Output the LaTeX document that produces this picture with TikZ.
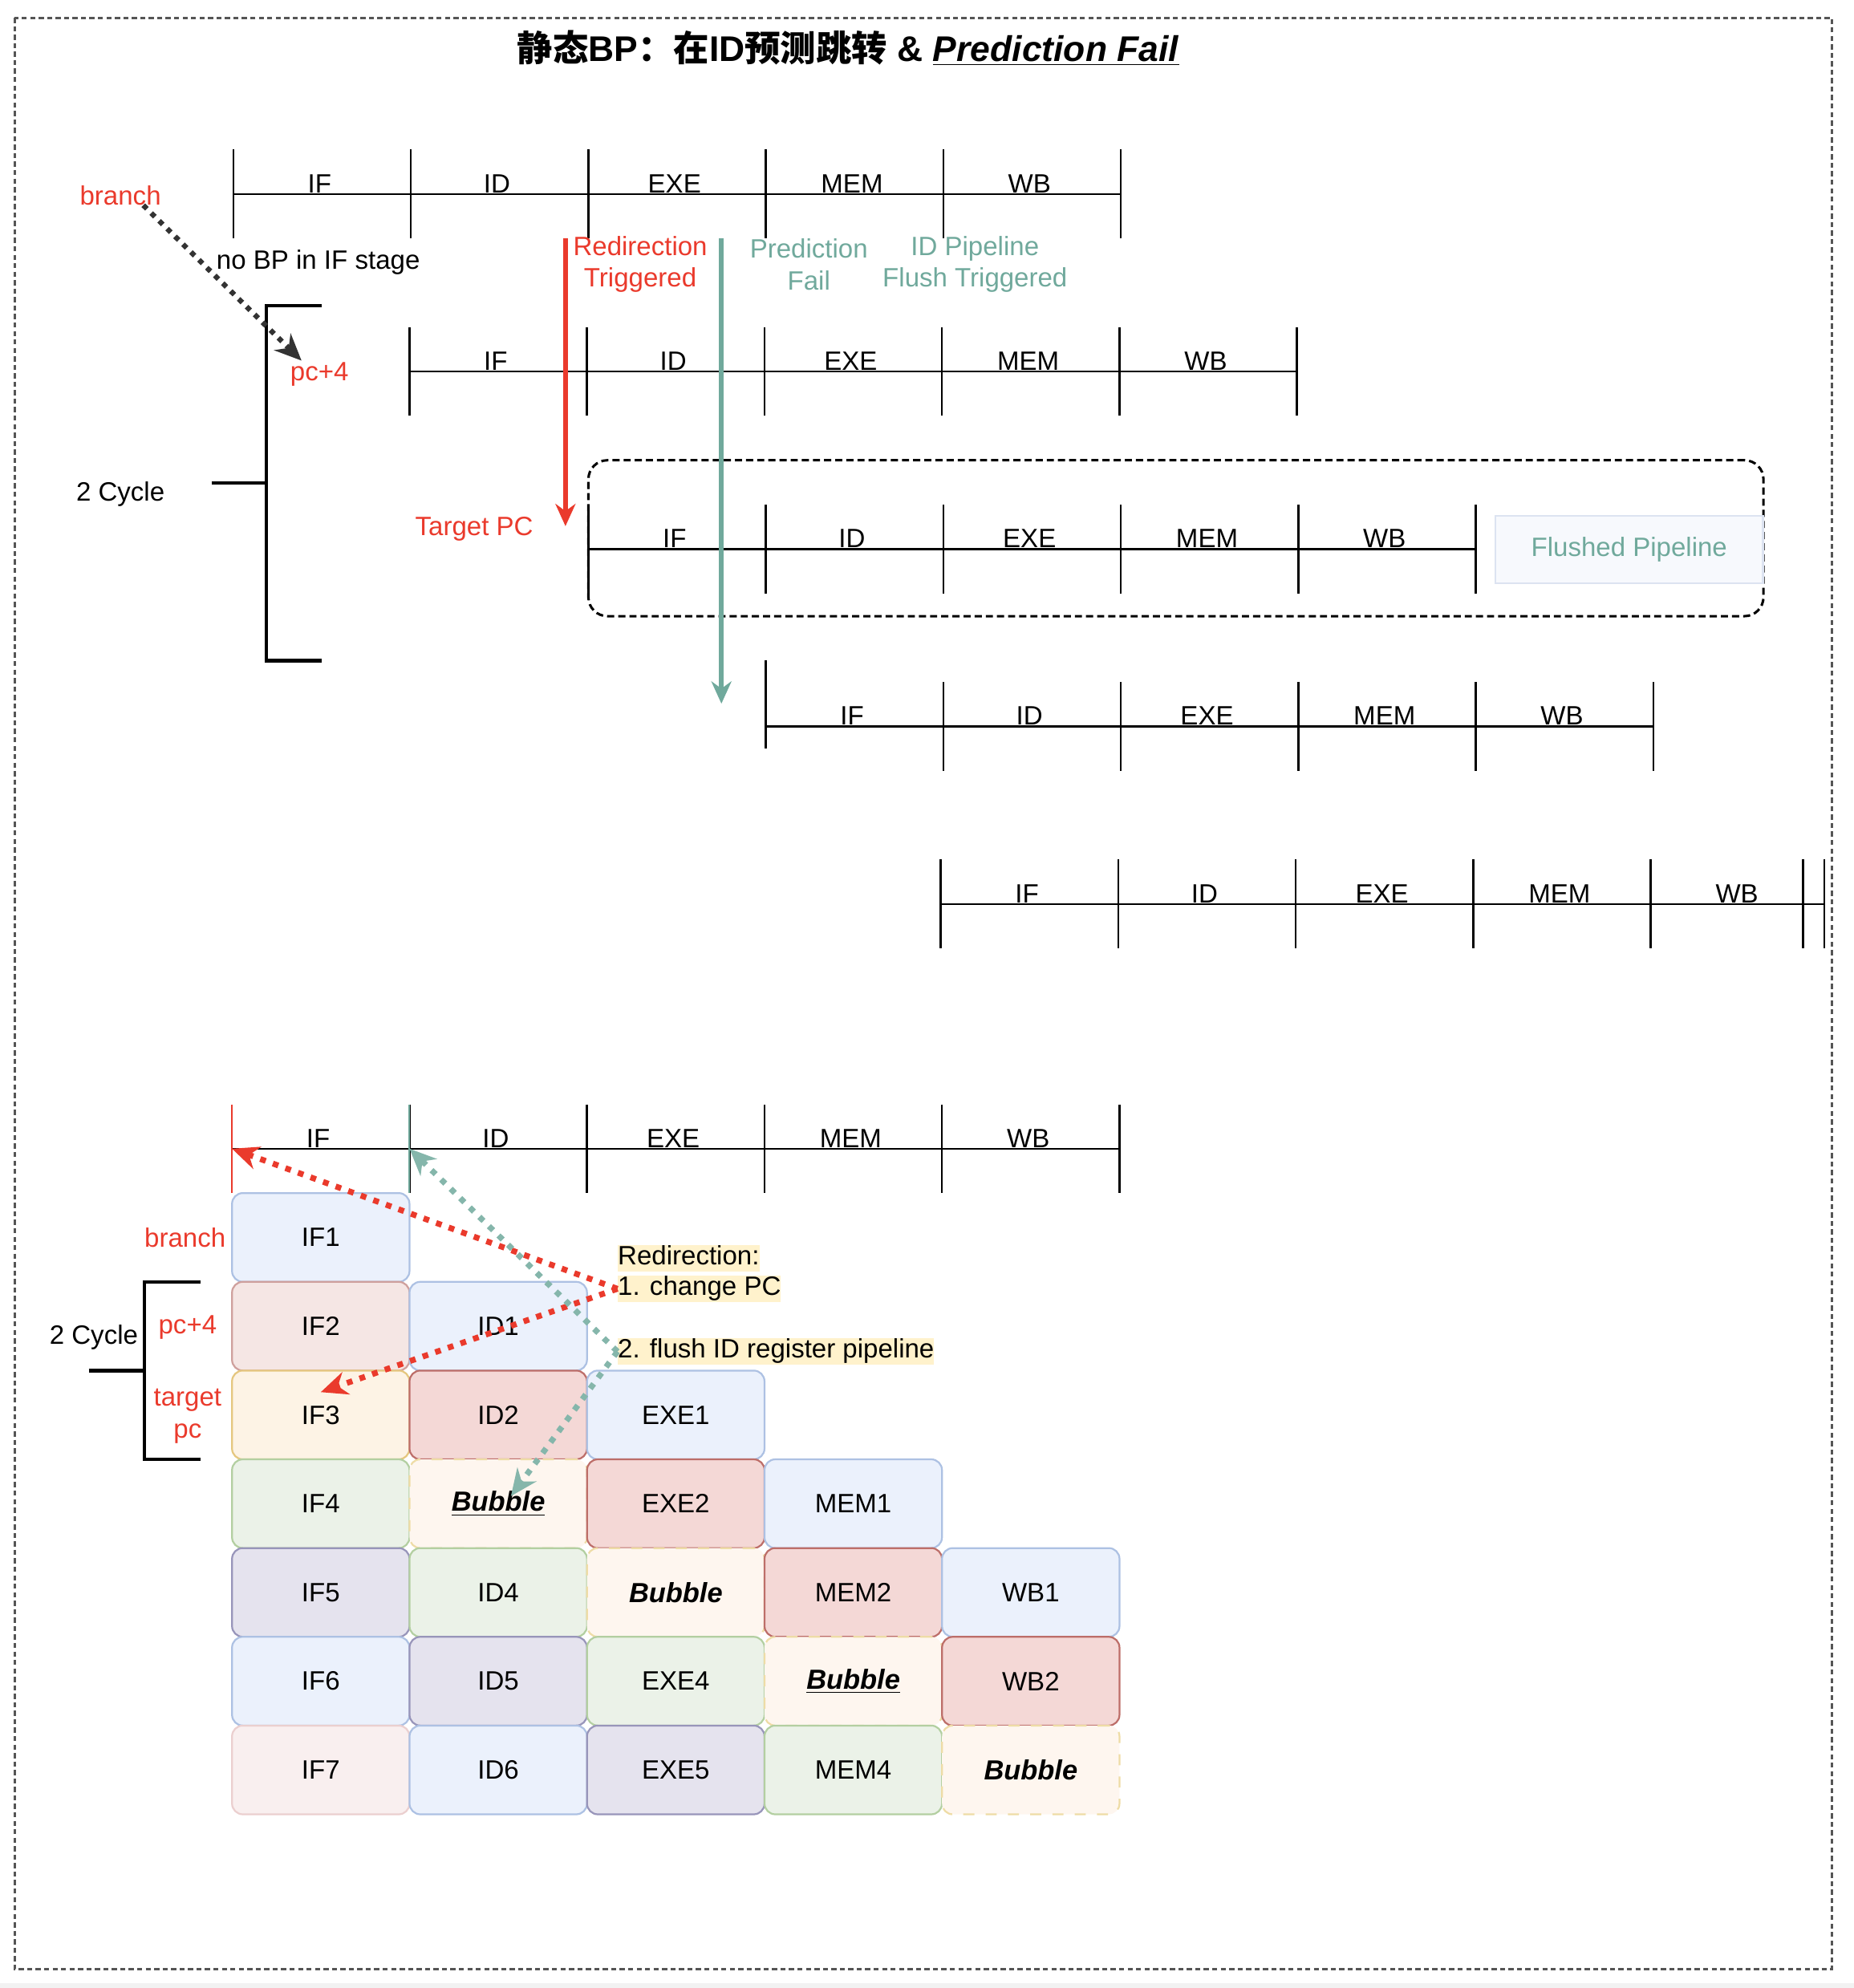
\documentclass[tikz,border=0pt]{standalone}
\usepackage{fontspec}
\setmainfont{Liberation Sans}
\newfontfamily\cjkfont{Noto Sans CJK SC}
\usepackage{xcolor}
\definecolor{redline}{HTML}{EA3A2C}
\definecolor{tealline}{HTML}{70A99C}
\definecolor{darkdot}{HTML}{333333}
\definecolor{framegray}{HTML}{555555}
\definecolor{notebg}{HTML}{FFF2CC}
\definecolor{blueF}{HTML}{EBF1FC}
\definecolor{blueD}{HTML}{ADC1E3}
\definecolor{redF}{HTML}{F4D8D6}
\definecolor{redD}{HTML}{BD6E69}
\definecolor{lredF}{HTML}{F5E6E4}
\definecolor{lredD}{HTML}{CFA09D}
\definecolor{yelF}{HTML}{FDF3E5}
\definecolor{yelD}{HTML}{E5C77F}
\definecolor{bubF}{HTML}{FEF6EF}
\definecolor{bubD}{HTML}{EEDCA6}
\definecolor{greenF}{HTML}{EBF2E8}
\definecolor{greenD}{HTML}{B3CFA1}
\definecolor{purpF}{HTML}{E5E3EE}
\definecolor{purpD}{HTML}{9895BA}
\definecolor{pinkF}{HTML}{F9EFEF}
\definecolor{pinkD}{HTML}{EBCFCF}
\definecolor{zoneF}{HTML}{F7F9FD}
\definecolor{zoneD}{HTML}{DCE3F1}
\usepackage{tikz}
\usetikzlibrary{arrows.meta, positioning}

\tikzstyle{stagelbl} = [anchor=base, inner sep=0pt]
\tikzstyle{timeline} = [line width=0.9pt]
\tikzstyle{tick} = [line width=0.9pt]
\tikzstyle{bracket} = [line width=1.6pt]
\tikzstyle{redtxt} = [text=redline]
\tikzstyle{tealtxt} = [text=tealline]
\tikzstyle{frame} = [draw=framegray, line width=1pt, dash pattern=on 2.3pt off 1.5pt]
\tikzstyle{flushzone} = [
  rectangle, rounded corners=0.3cm, draw=black, line width=1.1pt,
  dash pattern=on 3.2pt off 1.8pt,
  minimum width=18.54cm, minimum height=2.46cm
]
\tikzstyle{flushbox} = [
  rectangle, fill=zoneF, draw=zoneD, line width=0.8pt, text=tealline,
  minimum width=4.22cm, minimum height=1.06cm
]
\tikzstyle{cell} = [
  rectangle, rounded corners=0.17cm, inner sep=0pt,
  minimum width=2.8cm, minimum height=1.4cm, line width=0.8pt
]
\tikzstyle{bluecell}   = [cell, fill=blueF,  draw=blueD]
\tikzstyle{redcell}    = [cell, fill=redF,   draw=redD]
\tikzstyle{lredcell}   = [cell, fill=lredF,  draw=lredD]
\tikzstyle{yelcell}    = [cell, fill=yelF,   draw=yelD]
\tikzstyle{greencell}  = [cell, fill=greenF, draw=greenD]
\tikzstyle{purpcell}   = [cell, fill=purpF,  draw=purpD]
\tikzstyle{pinkcell}   = [cell, fill=pinkF,  draw=pinkD]
\tikzstyle{bubcell}    = [cell, fill=bubF,   draw=bubD, dash pattern=on 5pt off 5pt,
                          font=\fontsize{12.4}{14.2}\selectfont\bfseries\itshape]
\tikzstyle{note} = [
  anchor=west, inner xsep=0pt, inner ysep=1pt, fill=notebg,
  text height=0.78em, text depth=0.22em
]
\tikzstyle{bigarrow} = [-{Stealth[length=10pt,width=9pt]}, line width=2.2pt]
\tikzstyle{dotarrow} = [
  -{Stealth[length=12pt,width=10.5pt]}, line width=2.6pt,
  dash pattern=on 2.6pt off 3.4pt
]

% one pipeline row: five stages of 140 units
\newcommand{\stagerow}[4][]{%
  \coordinate (#2t0) at (#3,#4);
  \draw[timeline] (#3,#4) -- ++(700,0);
  \draw[tick,#1] (#3,#4-35) -- ++(0,70);
  \foreach \k in {1,...,5}{
    \coordinate (#2t\k) at (#3+140*\k,#4);
    \draw[tick] (#2t\k) ++(0,-35) -- ++(0,70);
  }
  \foreach \lbl [count=\k from 0] in {IF,ID,EXE,MEM,WB}
    \node[stagelbl] (#2\lbl) at (#3+68+140*\k,#4-1) {\lbl};
}

\begin{document}
\begin{tikzpicture}[x=0.02cm, y=-0.02cm, >=Stealth,
                    every node/.style={font=\fontsize{11.9}{14.2}\selectfont}]

  \useasboundingbox (0,0) rectangle (1462,1568);

  % ── Frame ─────────────────────────────────────────────
  \fill[gray!10] (0,1564) rectangle (1462,1568);
  \draw[frame] (11.5,14) rectangle (1445,1553);

  % ── Title ─────────────────────────────────────────────
  \node[font=\fontsize{16}{19}\selectfont\bfseries] (title) at (669,38)
    {{\cjkfont 静态}BP{\cjkfont ：在}ID{\cjkfont 预测跳转} \& \underline{\textit{Prediction Fail}}};

  % ── Upper pipelines ───────────────────────────────────
  \stagerow{pa}{184}{153}
  \stagerow{pb}{323}{293}
  \node[flushzone] (zone) at (927.5,424.5) {};
  \stagerow{pc}{464}{433}
  \node[flushbox] (flushed) at (1285,433.5) {Flushed Pipeline};
  \stagerow[yshift=0.35cm]{pd}{604}{573}

  \draw[timeline] (742,713) -- (1439,713);
  \foreach \x in {742,882,1022,1162,1302,1422,1439}
    \draw[tick] (\x,678) -- (\x,748);
  \foreach \lbl [count=\k from 0] in {IF,ID,EXE,MEM,WB}
    \node[stagelbl] (pe\lbl) at (810+140*\k,712) {\lbl};

  % ── Upper labels ──────────────────────────────────────
  \node[redtxt] (branch) at (95,154) {branch};
  \node (nobp) at (251,207) {no BP in IF stage};
  \node[redtxt] (pcfour) at (252,295) {pc+4};
  \node (cycle) at (95,390) {2 Cycle};
  \node[redtxt, align=center] (redir) at (505,208.5) {Redirection\\Triggered};
  \node[redtxt] (target) at (374,417) {Target PC};
  \node[tealtxt, align=center] (predfail) at (638,208.5) {Prediction\\Fail};
  \node[tealtxt, align=center] (idflush) at (769,208.5) {ID Pipeline\\Flush Triggered};

  \draw[bracket] (254,241) -- (210,241) -- (210,521) -- (254,521);
  \draw[bracket] (167,381) -- (210,381);

  % ── Upper arrows ──────────────────────────────────────
  \coordinate (redtop) at (446,188);
  \coordinate (redend) at (446,415);
  \coordinate (tealtop) at (569,188);
  \coordinate (tealend) at (569,555);
  \draw[dotarrow, darkdot, line width=2.3pt, dash pattern=on 2.3pt off 2.7pt]
    ([xshift=0.36cm,yshift=0.12cm]branch.south) -- ([xshift=0.3cm,yshift=-0.1cm]pcfour.north west);
  \draw[bigarrow, redline] (redtop) -- (redend);
  \draw[bigarrow, tealline] (tealtop) -- (tealend);

  % ── Lower pipeline ────────────────────────────────────
  \stagerow[draw=redline, line width=0.7pt]{q}{183}{906}
  \draw[tick, draw=tealline, line width=0.7pt] (qt1) ++(0,-35) -- ++(0,70);

  % ── Stage cells ───────────────────────────────────────
  \node[bluecell]  (IF1)  at (253,976)  {IF1};

  \node[lredcell]  (IF2)  at (253,1046) {IF2};
  \node[bluecell]  (ID1)  at (393,1046) {ID1};

  \node[yelcell]   (IF3)  at (253,1116) {IF3};
  \node[redcell]   (ID2)  at (393,1116) {ID2};
  \node[bluecell]  (EXE1) at (533,1116) {EXE1};

  \node[greencell] (IF4)  at (253,1186) {IF4};
  \node[bubcell]   (bubA) at (393,1186) {\underline{Bubble}};
  \node[redcell]   (EXE2) at (533,1186) {EXE2};
  \node[bluecell]  (MEM1) at (673,1186) {MEM1};

  \node[purpcell]  (IF5)  at (253,1256) {IF5};
  \node[greencell] (ID4)  at (393,1256) {ID4};
  \node[bubcell]   (bubB) at (533,1256) {Bubble};
  \node[redcell]   (MEM2) at (673,1256) {MEM2};
  \node[bluecell]  (WB1)  at (813,1256) {WB1};

  \node[bluecell]  (IF6)  at (253,1326) {IF6};
  \node[purpcell]  (ID5)  at (393,1326) {ID5};
  \node[greencell] (EXE4) at (533,1326) {EXE4};
  \node[bubcell]   (bubC) at (673,1326) {\underline{Bubble}};
  \node[redcell]   (WB2)  at (813,1326) {WB2};

  \node[pinkcell]  (IF7)  at (253,1396) {IF7};
  \node[bluecell]  (ID6)  at (393,1396) {ID6};
  \node[purpcell]  (EXE5) at (533,1396) {EXE5};
  \node[greencell] (MEM4) at (673,1396) {MEM4};
  \node[bubcell]   (bubD) at (813,1396) {Bubble};

  % ── Lower labels ──────────────────────────────────────
  \node[redtxt] (lbranch) at (146,976) {branch};
  \node[redtxt] (lpc) at (148,1047) {pc+4};
  \node[redtxt, align=center] (ltarget) at (148,1117) {target\\pc};
  \node (lcycle) at (74,1055) {2 Cycle};
  \draw[bracket] (158,1011) -- (114,1011) -- (114,1151) -- (158,1151);
  \draw[bracket] (70,1081) -- (114,1081);

  \node[note] (redirnote) at (487,992.5) {Redirection:};
  \node[note] (chpc) at (487,1016.5) {1. change PC};
  \node[note] (flush) at (487,1066) {2. flush ID register pipeline};

  % ── Lower arrows ──────────────────────────────────────
  \draw[dotarrow, redline] (chpc.west) -- (qt0);
  \draw[dotarrow, redline] (chpc.west) -- ([yshift=0.36cm]IF3.center);
  \draw[dotarrow, tealline!85] (flush.west) -- (qt1);
  \draw[dotarrow, tealline!85] (flush.west) -- ([xshift=0.2cm,yshift=0.12cm]bubA.center);

\end{tikzpicture}
\end{document}
